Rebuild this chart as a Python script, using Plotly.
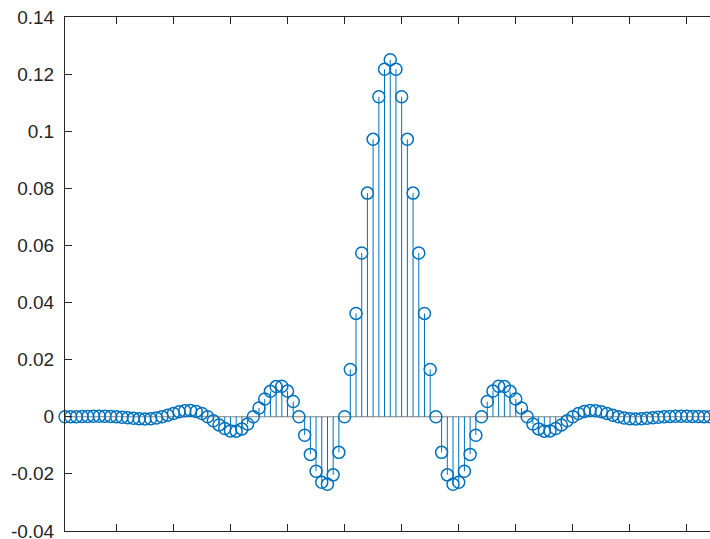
import plotly.graph_objects as go

# sample index
n = list(range(1, 116))

# impulse response values
h = [
    -0.000013, 0.0, 0.000027, 0.000067, 0.000115, 0.000159, 0.000185, 0.000175, 0.000116, 0.0,
    -0.000168, -0.000368, -0.000567, -0.000718, -0.000771, -0.000682, -0.000425, 0.0,
    0.000554, 0.001162, 0.001717, 0.002096, 0.002175, 0.001866, 0.001128, 0.0,
    -0.001397, -0.002864, -0.004142, -0.004954, -0.005050, -0.004258, -0.002535, 0.0,
    0.003059, 0.006204, 0.008891, 0.010554, 0.010696, 0.008982, 0.005339, 0.0,
    -0.006465, -0.013187, -0.019075, -0.022944, -0.023672, -0.020357, -0.012480, 0.0,
    0.016569, 0.036187, 0.057366, 0.078317, 0.097151, 0.112092, 0.121689,
    0.125,
    0.121689, 0.112092, 0.097151, 0.078317, 0.057366, 0.036187, 0.016569,
    0.0, -0.012480, -0.020357, -0.023672, -0.022944, -0.019075, -0.013187, -0.006465,
    0.0, 0.005339, 0.008982, 0.010696, 0.010554, 0.008891, 0.006204, 0.003059,
    0.0, -0.002535, -0.004258, -0.005050, -0.004954, -0.004142, -0.002864, -0.001397,
    0.0, 0.001128, 0.001866, 0.002175, 0.002096, 0.001717, 0.001162, 0.000554,
    0.0, -0.000425, -0.000682, -0.000771, -0.000718, -0.000567, -0.000368, -0.000168,
    0.0, 0.000116, 0.000175, 0.000185, 0.000159, 0.000115, 0.000067, 0.000027, 0.0, -0.000013,
]

x_ticks = [10, 20, 30, 40, 50, 60, 70, 80, 90, 100, 110]
y_ticks = [-0.04, -0.02, 0, 0.02, 0.04, 0.06, 0.08, 0.1, 0.12, 0.14]
y_tick_text = ["-0.04", "-0.02", "0", "0.02", "0.04", "0.06", "0.08", "0.1", "0.12", "0.14"]

BLUE = "#0072BD"
AX = "#262626"

stem_x, stem_y = [], []
for xi, yi in zip(n, h):
    stem_x += [xi, xi, None]
    stem_y += [0, yi, None]

fig = go.Figure()
fig.add_trace(go.Scatter(x=stem_x, y=stem_y, mode="lines",
                         line=dict(color=BLUE, width=1), hoverinfo="skip",
                         showlegend=False, cliponaxis=False))
fig.add_trace(go.Scatter(x=n, y=h, mode="markers",
                         marker=dict(symbol="circle-open", size=12, color=BLUE,
                                     line=dict(width=1.5, color=BLUE)),
                         showlegend=False, cliponaxis=False))

fig.add_shape(type="line", xref="paper", yref="y", x0=0, x1=1, y0=0, y1=0,
              line=dict(color="#808080", width=1.2), layer="below")

fig.update_layout(
    width=710, height=539,
    margin=dict(l=65, r=0, t=17, b=8, autoexpand=False),
    paper_bgcolor="white", plot_bgcolor="white",
    font=dict(family="Liberation Sans, Arial, sans-serif", size=19, color=AX),
    xaxis=dict(range=[1, 114.04], showline=True, linecolor=AX, linewidth=1,
               mirror="ticks", ticks="inside", ticklen=7, tickcolor=AX, tickwidth=1,
               tickvals=x_ticks, showticklabels=False, showgrid=False, zeroline=False,
               automargin=False),
    yaxis=dict(range=[-0.04002, 0.14], showline=True, linecolor=AX, linewidth=1,
               ticks="inside", ticklen=7, tickcolor=AX, tickwidth=1,
               tickvals=y_ticks, ticktext=y_tick_text, ticklabelstandoff=6,
               ticklabeloverflow="allow", automargin=False,
               tickfont=dict(size=19, color=AX), showgrid=False, zeroline=False),
)

fig.write_html("out.html", config={"displayModeBar": False},
               post_script="document.body.style.margin='0';document.body.style.overflow='hidden';")
